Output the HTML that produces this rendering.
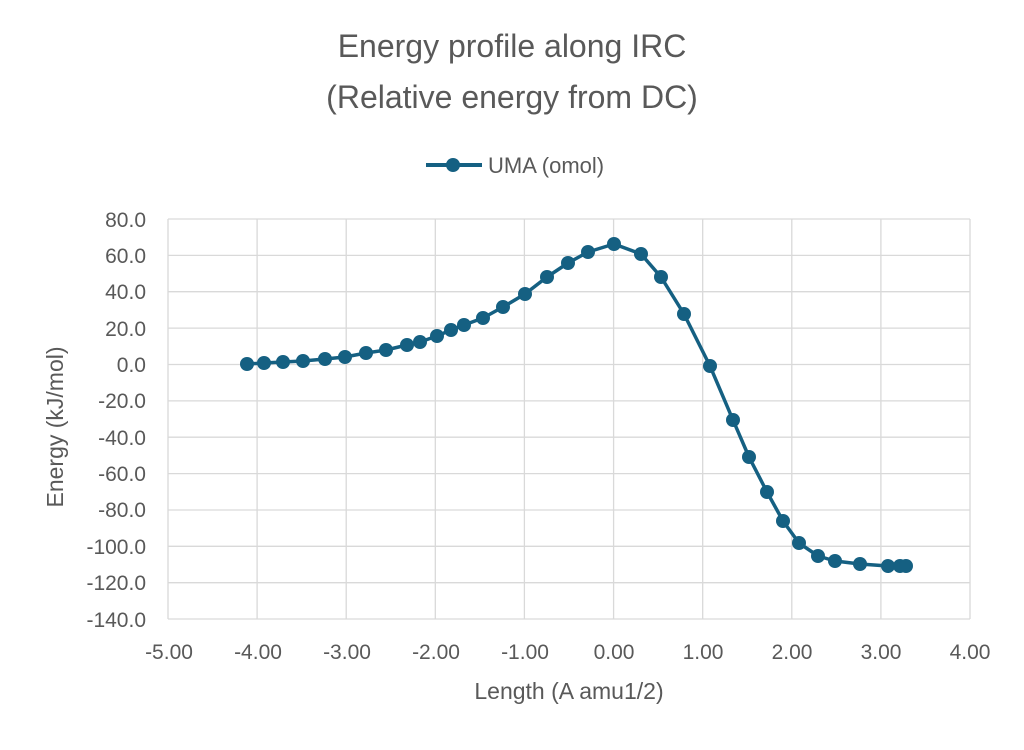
<!DOCTYPE html>
<html><head><meta charset="utf-8"><style>
body{margin:0;background:#fff;}
svg text{font-family:"Liberation Sans",sans-serif;fill:#595959;}
</style></head><body>
<svg width="1024" height="745" xmlns="http://www.w3.org/2000/svg">
<rect width="1024" height="745" fill="#fff"/>
<text x="512" y="57" font-size="32" text-anchor="middle">Energy profile along IRC</text>
<text x="512" y="108" font-size="32" text-anchor="middle">(Relative energy from DC)</text>
<line x1="426" y1="165" x2="482" y2="165" stroke="#156082" stroke-width="4"/>
<circle cx="453" cy="165" r="7" fill="#156082"/>
<text x="488" y="173" font-size="22">UMA (omol)</text>
<g stroke="#d9d9d9" stroke-width="1.3">
<line x1="168" y1="219" x2="970" y2="219"/><line x1="168" y1="255.4" x2="970" y2="255.4"/>
<line x1="168" y1="291.7" x2="970" y2="291.7"/><line x1="168" y1="328.1" x2="970" y2="328.1"/>
<line x1="168" y1="364.5" x2="970" y2="364.5"/><line x1="168" y1="400.9" x2="970" y2="400.9"/>
<line x1="168" y1="437.2" x2="970" y2="437.2"/><line x1="168" y1="473.6" x2="970" y2="473.6"/>
<line x1="168" y1="510" x2="970" y2="510"/><line x1="168" y1="546.3" x2="970" y2="546.3"/>
<line x1="168" y1="582.7" x2="970" y2="582.7"/><line x1="168" y1="619" x2="970" y2="619"/>
<line x1="168" y1="219" x2="168" y2="619"/><line x1="257.1" y1="219" x2="257.1" y2="619"/>
<line x1="346.2" y1="219" x2="346.2" y2="619"/><line x1="435.3" y1="219" x2="435.3" y2="619"/>
<line x1="524.4" y1="219" x2="524.4" y2="619"/><line x1="613.6" y1="219" x2="613.6" y2="619"/>
<line x1="702.7" y1="219" x2="702.7" y2="619"/><line x1="791.8" y1="219" x2="791.8" y2="619"/>
<line x1="880.9" y1="219" x2="880.9" y2="619"/><line x1="970" y1="219" x2="970" y2="619"/>
</g>
<g font-size="21" text-anchor="end">
<text x="146" y="227">80.0</text><text x="146" y="263">60.0</text><text x="146" y="299">40.0</text>
<text x="146" y="336">20.0</text><text x="146" y="372">0.0</text><text x="146" y="408">-20.0</text>
<text x="146" y="445">-40.0</text><text x="146" y="481">-60.0</text><text x="146" y="517">-80.0</text>
<text x="146" y="554">-100.0</text><text x="146" y="590">-120.0</text><text x="146" y="627">-140.0</text>
</g>
<g font-size="21" text-anchor="middle">
<text x="169" y="659">-5.00</text><text x="258" y="659">-4.00</text><text x="347" y="659">-3.00</text>
<text x="436" y="659">-2.00</text><text x="525" y="659">-1.00</text><text x="614" y="659">0.00</text>
<text x="703" y="659">1.00</text><text x="792" y="659">2.00</text><text x="881" y="659">3.00</text>
<text x="970" y="659">4.00</text>
</g>
<text x="569" y="699" font-size="23" text-anchor="middle">Length (A amu1/2)</text>
<text transform="translate(63,427) rotate(-90)" font-size="23" text-anchor="middle">Energy (kJ/mol)</text>
<g fill="#156082">
<polyline fill="none" stroke="#156082" stroke-width="3.5" stroke-linejoin="round" points="247,364 264,363 283,362 303,361 325,359 345,357 366,353 386,350 407,345 420,342 437,336 451,330 464,325 483,318 503,307 525,294 547,277 568,263 588,252 614,244 641,254 661,277 684,314 710,366 733,420 749,457 767,492 783,521 799,543 818,556 835,561 860,564 888,566 900,566 906,566"/>
<circle cx="247" cy="364" r="7"/><circle cx="264" cy="363" r="7"/><circle cx="283" cy="362" r="7"/>
<circle cx="303" cy="361" r="7"/><circle cx="325" cy="359" r="7"/><circle cx="345" cy="357" r="7"/>
<circle cx="366" cy="353" r="7"/><circle cx="386" cy="350" r="7"/><circle cx="407" cy="345" r="7"/>
<circle cx="420" cy="342" r="7"/><circle cx="437" cy="336" r="7"/><circle cx="451" cy="330" r="7"/>
<circle cx="464" cy="325" r="7"/><circle cx="483" cy="318" r="7"/><circle cx="503" cy="307" r="7"/>
<circle cx="525" cy="294" r="7"/><circle cx="547" cy="277" r="7"/><circle cx="568" cy="263" r="7"/>
<circle cx="588" cy="252" r="7"/><circle cx="614" cy="244" r="7"/><circle cx="641" cy="254" r="7"/>
<circle cx="661" cy="277" r="7"/><circle cx="684" cy="314" r="7"/><circle cx="710" cy="366" r="7"/>
<circle cx="733" cy="420" r="7"/><circle cx="749" cy="457" r="7"/><circle cx="767" cy="492" r="7"/>
<circle cx="783" cy="521" r="7"/><circle cx="799" cy="543" r="7"/><circle cx="818" cy="556" r="7"/>
<circle cx="835" cy="561" r="7"/><circle cx="860" cy="564" r="7"/><circle cx="888" cy="566" r="7"/>
<circle cx="900" cy="566" r="7"/><circle cx="906" cy="566" r="7"/>
</g>
</svg>
</body></html>
